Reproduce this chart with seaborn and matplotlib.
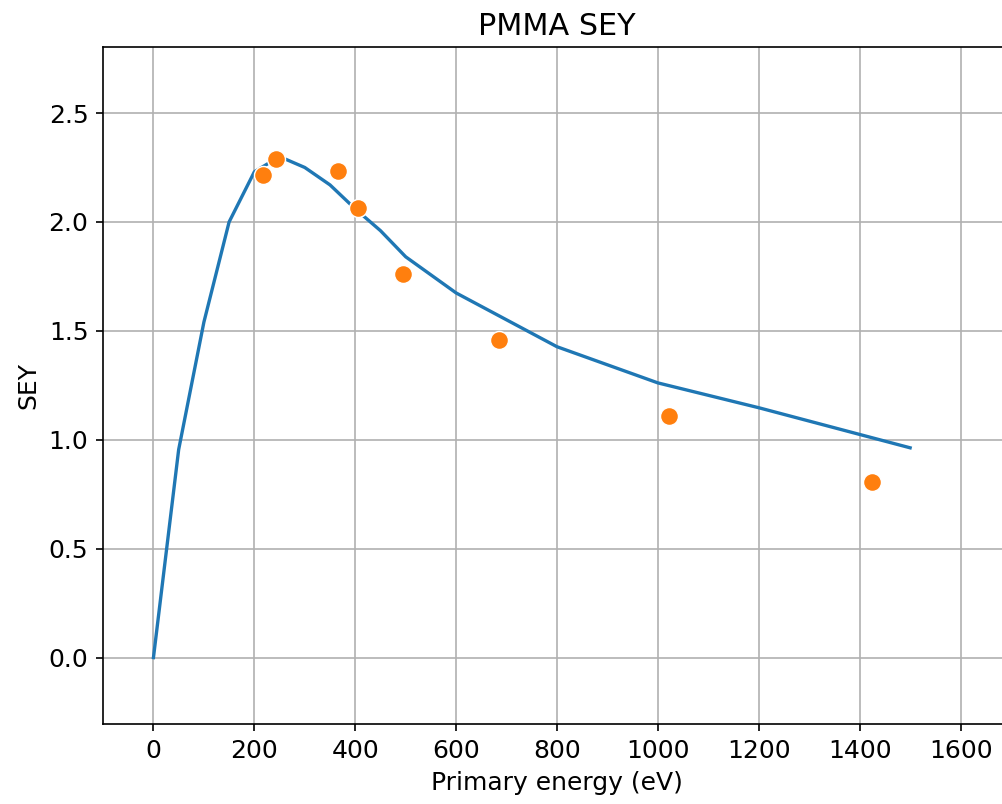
import matplotlib
matplotlib.use('Agg')
import matplotlib.pyplot as plt
import seaborn as sns
import pandas as pd

# Corba del model (SEY vs energia primària)
model_energy = [0, 50, 100, 150, 200, 250, 300, 350, 400, 450, 500, 600, 800, 1000, 1200, 1500]
model_sey = [0.0, 0.955, 1.54, 2.0, 2.23, 2.30, 2.25, 2.17, 2.06, 1.96, 1.84, 1.674, 1.427, 1.261, 1.147, 0.963]

# Mesures experimentals
exp_energy = [218, 243, 366, 406, 494, 685, 1022, 1425]
exp_sey = [2.215, 2.29, 2.233, 2.066, 1.763, 1.459, 1.11, 0.807]

model = pd.DataFrame({'energy': model_energy, 'sey': model_sey})
measured = pd.DataFrame({'energy': exp_energy, 'sey': exp_sey})

plt.rcParams['font.size'] = 12

fig = plt.figure(figsize=(1002 / 150, 804 / 150), dpi=150)
ax = fig.add_axes([0.1028, 0.0995, 1.009 - 0.1028, 0.9415 - 0.0995])

sns.lineplot(data=model, x='energy', y='sey', color='C0', linewidth=1.6, ax=ax)
sns.scatterplot(data=measured, x='energy', y='sey', color='C1', s=75, ax=ax, zorder=3)

ax.set_xlim(-100, 1700)
ax.set_ylim(-0.305, 2.803)
ax.set_xticks(range(0, 1601, 200))
ax.set_yticks([0.0, 0.5, 1.0, 1.5, 2.0, 2.5])
ax.grid(True)
ax.set_axisbelow(True)
ax.set_title('PMMA SEY', fontsize=14.5)
ax.set_xlabel('Primary energy (eV)')
ax.set_ylabel('SEY')

fig.savefig('out.png', dpi=150)
